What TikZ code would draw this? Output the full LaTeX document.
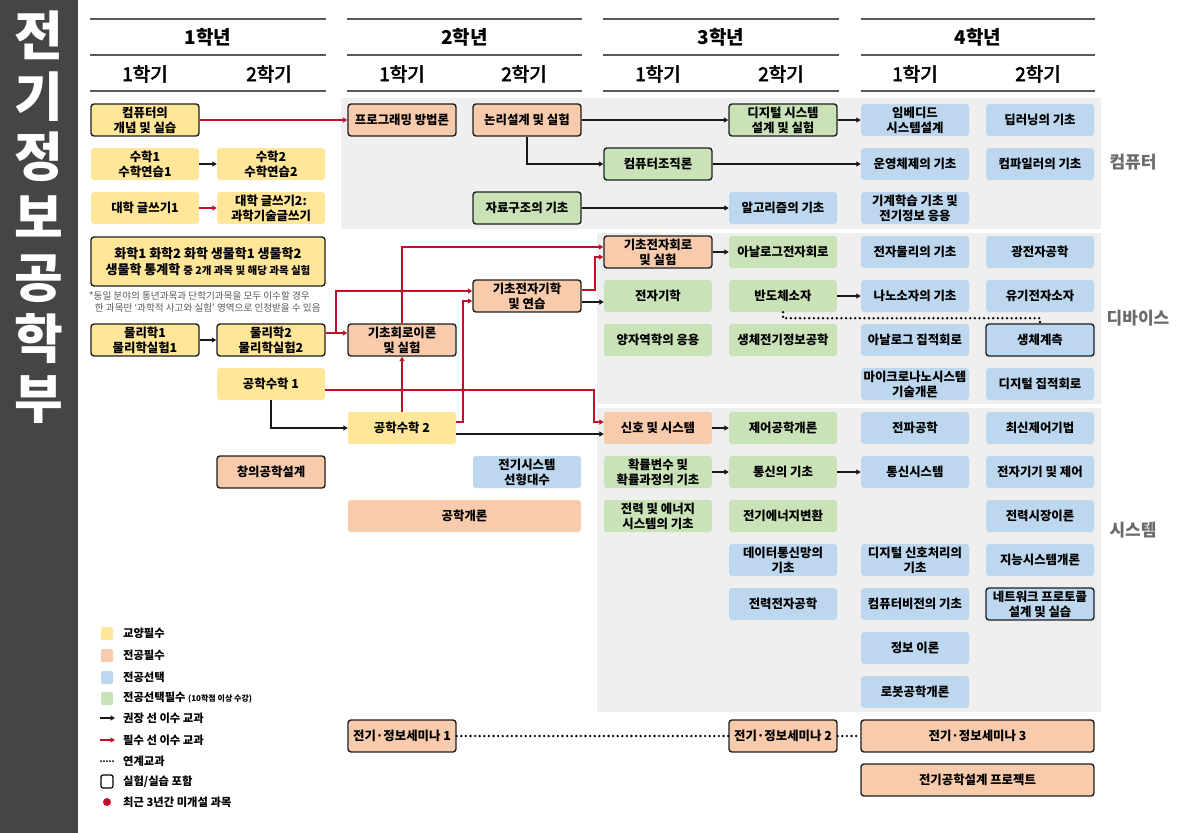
\documentclass[tikz,border=0pt]{standalone}
\usepackage{fontspec}
\setmainfont{Noto Sans CJK KR}
\newfontfamily\krsemi{Noto Sans CJK KR}[FakeBold=3]
\usetikzlibrary{arrows.meta,calc}
\definecolor{cyel}{HTML}{FFE699}
\definecolor{corg}{HTML}{F8CBAD}
\definecolor{cblu}{HTML}{BDD7EE}
\definecolor{cgrn}{HTML}{C9E2B8}
\definecolor{cbg}{HTML}{EFEFEF}
\definecolor{cred}{HTML}{C0102A}
\definecolor{cbar}{HTML}{454545}
\definecolor{clab}{HTML}{6A6A6A}
\definecolor{cline}{HTML}{5A5A5A}
\begin{document}
\begin{tikzpicture}[x=1pt,y=-1pt,
 cbox/.style={rectangle,rounded corners=3pt,minimum width=108pt,minimum height=32pt,inner sep=0pt,align=center,font=\bfseries\fontsize{12.4}{15}\selectfont},
 lab/.style={draw=black!88,line width=1.4pt},
 ybox/.style={cbox,fill=cyel}, obox/.style={cbox,fill=corg}, bbox/.style={cbox,fill=cblu}, gbox/.style={cbox,fill=cgrn},
 blk/.style={line width=1.8pt,draw=black!90,-{Triangle[length=4.5pt,width=5pt]}},
 rd/.style={blk,draw=cred,-{Triangle[length=4.5pt,width=5pt,fill=cred]}},
 dots/.style={line width=2.6pt,line cap=round,dash pattern=on 0pt off 4.6pt},
 yr/.style={font=\bfseries\fontsize{19}{22}\selectfont},
 sm/.style={font=\krsemi\fontsize{19}{22}\selectfont},
 sect/.style={font=\bfseries\fontsize{17}{20}\selectfont,text=clab},
 leg/.style={anchor=west,inner sep=0pt,font=\bfseries\fontsize{11.3}{13}\selectfont}
]
\useasboundingbox (0,0) rectangle (1179,833);
\fill[white] (0,0) rectangle (1179,833);
% left bar
\fill[cbar] (0,0) rectangle (78,833);
\node[text=white,font=\bfseries\fontsize{53}{60.5}\selectfont,align=center,anchor=north,inner sep=0pt] (title) at (39,11) {전\\기\\정\\보\\공\\학\\부};

% header lines
\foreach \a/\b in {90/326,347/582,603/839,861/1095}{
  \draw[cline,line width=1.3pt] (\a,19) -- (\b,19);
  \draw[cline,line width=1.3pt] (\a,55) -- (\b,55);
  \draw[cline,line width=1.3pt] (\a,91) -- (\b,91);
}
\node[yr] (y1) at (208,37) {1학년};
\node[yr] (y2) at (464.5,37) {2학년};
\node[yr] (y3) at (721,37) {3학년};
\node[yr] (y4) at (978,37) {4학년};
\node[sm] (s11) at (145,74) {1학기};
\node[sm] (s12) at (269,74) {2학기};
\node[sm] (s21) at (402,74) {1학기};
\node[sm] (s22) at (524,74) {2학기};
\node[sm] (s31) at (658,74) {1학기};
\node[sm] (s32) at (781,74) {2학기};
\node[sm] (s41) at (915,74) {1학기};
\node[sm] (s42) at (1038,74) {2학기};

% background areas
\fill[cbg] (341,98) rectangle (1101,229);
\fill[cbg] (597,233) rectangle (1101,404);
\fill[cbg] (597,408) rectangle (1101,712);

\node[sect] (lcomp) at (1133,162) {컴퓨터};
\node[sect] (ldev) at (1138,318) {디바이스};
\node[sect] (lsys) at (1133,530) {시스템};

% computer
\node[ybox,lab] (comp) at (145,120) {컴퓨터의\\개념 및 실습};
\node[obox,lab] (prog) at (402,120) {프로그래밍 방법론};
\node[obox,lab] (logic) at (527,120) {논리설계 및 실험};
\node[gbox,lab] (digsys) at (783,120) {디지털 시스템\\설계 및 실험};
\node[bbox] (embed) at (915,120) {임베디드\\시스템설계};
\node[bbox] (deep) at (1040,120) {딥러닝의 기초};
\node[ybox] (math1) at (145,164) {수학1\\수학연습1};
\node[ybox] (math2) at (271,164) {수학2\\수학연습2};
\node[gbox,lab] (org) at (658,164) {컴퓨터조직론};
\node[bbox] (os) at (915,164) {운영체제의 기초};
\node[bbox] (compiler) at (1040,164) {컴파일러의 기초};
\node[ybox] (write1) at (145,208) {대학 글쓰기1};
\node[ybox] (write2) at (271,208) {대학 글쓰기2:\\과학기술글쓰기};
\node[gbox,lab] (ds) at (527,208) {자료구조의 기초};
\node[bbox] (algo) at (783,208) {알고리즘의 기초};
\node[bbox] (ml) at (915,208) {기계학습 기초 및\\전기정보 응용};

% device
\node[ybox,lab,minimum width=234pt,minimum height=49pt,font=\bfseries\fontsize{13}{16}\selectfont] (chem) at (208,261.5) {화학1 화학2 화학 생물학1 생물학2\\생물학 통계학 {\fontsize{10.5}{16}\selectfont 중 2개 과목 및 해당 과목 실험}};
\node[anchor=west,inner sep=0pt,align=left,text=black!65,font=\fontsize{9.6}{11.5}\selectfont] (note) at (89,302) {*동일 분야의 통년과목과 단학기과목을 모두 이수할 경우\\\hspace{0.6em}한 과목만 ‘과학적 사고와 실험’ 영역으로 인정받을 수 있음};
\node[ybox,lab] (phys1) at (145,340) {물리학1\\물리학실험1};
\node[ybox,lab] (phys2) at (271,340) {물리학2\\물리학실험2};
\node[obox,lab] (circ) at (402,340) {기초회로이론\\및 실험};
\node[obox,lab] (emag) at (527,296) {기초전자기학\\및 연습};
\node[ybox] (em1) at (271,384) {공학수학 1};
\node[ybox] (em2) at (402,428) {공학수학 2};
\node[obox,lab] (ecirc) at (658,252) {기초전자회로\\및 실험};
\node[gbox] (analog) at (783,252) {아날로그전자회로};
\node[bbox] (ephys) at (915,252) {전자물리의 기초};
\node[bbox] (opto) at (1040,252) {광전자공학};
\node[gbox] (emagn) at (658,296) {전자기학};
\node[gbox] (semi) at (783,296) {반도체소자};
\node[bbox] (nano) at (915,296) {나노소자의 기초};
\node[bbox] (organic) at (1040,296) {유기전자소자};
\node[gbox] (quantum) at (658,340) {양자역학의 응용};
\node[gbox] (bioinfo) at (783,340) {생체전기정보공학};
\node[bbox] (aic) at (915,340) {아날로그 집적회로};
\node[bbox,lab] (bio) at (1040,340) {생체계측};
\node[bbox] (mems) at (915,384) {마이크로나노시스템\\기술개론};
\node[bbox] (dic) at (1040,384) {디지털 집적회로};

% system
\node[obox] (sig) at (658,428) {신호 및 시스템};
\node[gbox] (ctrl) at (783,428) {제어공학개론};
\node[bbox] (wave) at (915,428) {전파공학};
\node[bbox] (modctrl) at (1040,428) {최신제어기법};
\node[gbox] (prob) at (658,472) {확률변수 및\\확률과정의 기초};
\node[gbox] (comm) at (783,472) {통신의 기초};
\node[bbox] (commsys) at (915,472) {통신시스템};
\node[bbox] (edev) at (1040,472) {전자기기 및 제어};
\node[gbox] (power) at (658,516) {전력 및 에너지\\시스템의 기초};
\node[gbox] (econv) at (783,516) {전기에너지변환};
\node[bbox] (market) at (1040,516) {전력시장이론};
\node[bbox] (datacomm) at (783,560) {데이터통신망의\\기초};
\node[bbox] (dsp) at (915,560) {디지털 신호처리의\\기초};
\node[bbox] (intel) at (1040,560) {지능시스템개론};
\node[bbox] (pe) at (783,604) {전력전자공학};
\node[bbox] (cv) at (915,604) {컴퓨터비전의 기초};
\node[bbox,lab] (net) at (1040,604) {네트워크 프로토콜\\설계 및 실습};
\node[bbox] (info) at (915,648) {정보 이론};
\node[bbox] (robot) at (915,692) {로봇공학개론};
\node[obox,lab] (creative) at (271,472) {창의공학설계};
\node[bbox] (linalg) at (527,472) {전기시스템\\선형대수};
\node[obox,minimum width=233pt] (intro) at (464.5,516) {공학개론};

% seminars
\node[obox,lab] (sem1) at (402,736) {전기·정보세미나 1};
\node[obox,lab] (sem2) at (783,736) {전기·정보세미나 2};
\node[obox,lab,minimum width=233pt] (sem3) at (977.5,736) {전기·정보세미나 3};
\node[obox,lab,minimum width=233pt] (proj) at (977.5,780) {전기공학설계 프로젝트};

% black arrows
\draw[blk] (math1) -- (math2);
\draw[blk] (phys1) -- (phys2);
\draw[blk] (logic.east) -- (digsys.west);
\draw[blk] (logic.south) |- (org.west);
\draw[blk] (digsys) -- (embed);
\draw[blk] (org) -- (os);
\draw[blk] (ds) -- (algo);
\draw[blk] (ecirc) -- (analog);
\draw[blk] ([yshift=-6pt]emag.east) -- ([yshift=-6pt]emagn.west);
\draw[blk] (semi) -- (nano);
\draw[blk] (em1.south) |- (em2.west);
\draw[blk] ([yshift=-6pt]em2.east) -- ([yshift=-6pt]sig.west);
\draw[blk] (sig) -- (ctrl);
\draw[blk] (prob) -- (comm);
\draw[blk] (comm) -- (commsys);

% red arrows
\draw[rd] (comp) -- (prog);
\draw[rd] (write1) -- (write2);
\draw[rd] ([yshift=7pt]phys2.east) -- ([yshift=7pt]circ.west);
\draw[rd] ([yshift=7pt]phys2.east) -- ++(10,0) |- ([yshift=5pt]emag.west);
\draw[rd] (circ.north) |- ([yshift=5pt]ecirc.west);
\draw[rd] ([yshift=6pt]emag.east) -- ++(13,0) |- ([yshift=-5pt]ecirc.west);
\draw[rd] (em2.north) -- (circ.south);
\draw[rd] ([yshift=6pt]em2.east) -- ++(7,0) |- ([yshift=-5pt]emag.west);
\draw[rd] ([yshift=-6pt]em1.east) -| ($([yshift=6pt]sig.west)+(-10,0)$) -- ([yshift=6pt]sig.west);
\fill[cred] (402,291) circle (2);
\fill[cred] (402,390) circle (2);
\fill[cred] (463,390) circle (2);

% dotted
\draw[dots] (semi.south) -- ++(0,6) -| (bio.north);
\draw[dots] (sem1) -- (sem2);
\draw[dots] (sem2) -- (sem3);

% legend
\fill[cyel,rounded corners=1.5pt] (101,627) rectangle (113,640);
\fill[corg,rounded corners=1.5pt] (101,649) rectangle (113,662);
\fill[cblu,rounded corners=1.5pt] (101,671) rectangle (113,684);
\fill[cgrn,rounded corners=1.5pt] (101,692) rectangle (113,705);
\coordinate (la1) at (100,718); \coordinate (la2) at (115,718);
\draw[blk,line width=1.6pt] (la1) -- (la2);
\coordinate (lr1) at (100,740); \coordinate (lr2) at (115,740);
\draw[rd,line width=1.6pt] (lr1) -- (lr2);
\coordinate (ld1) at (101,761); \coordinate (ld2) at (114,761);
\draw[line width=2pt,line cap=round,dash pattern=on 0pt off 3pt] (ld1) -- (ld2);
\draw[line width=1.2pt,rounded corners=2pt] (101,775) rectangle (113,788);
\fill[cred] (107,802) circle (4);
\node[leg] (t1) at (123,633) {교양필수};
\node[leg] (t2) at (123,655) {전공필수};
\node[leg] (t3) at (123,677) {전공선택};
\node[leg] (t4) at (123,698) {전공선택필수 {\fontsize{8}{10}\selectfont (10학점 이상 수강)}};
\node[leg] (t5) at (123,718) {권장 선 이수 교과};
\node[leg] (t6) at (123,740) {필수 선 이수 교과};
\node[leg] (t7) at (123,761) {연계교과};
\node[leg] (t8) at (123,782) {실험/실습 포함};
\node[leg] (t9) at (123,802) {최근 3년간 미개설 과목};
\end{tikzpicture}
\end{document}
